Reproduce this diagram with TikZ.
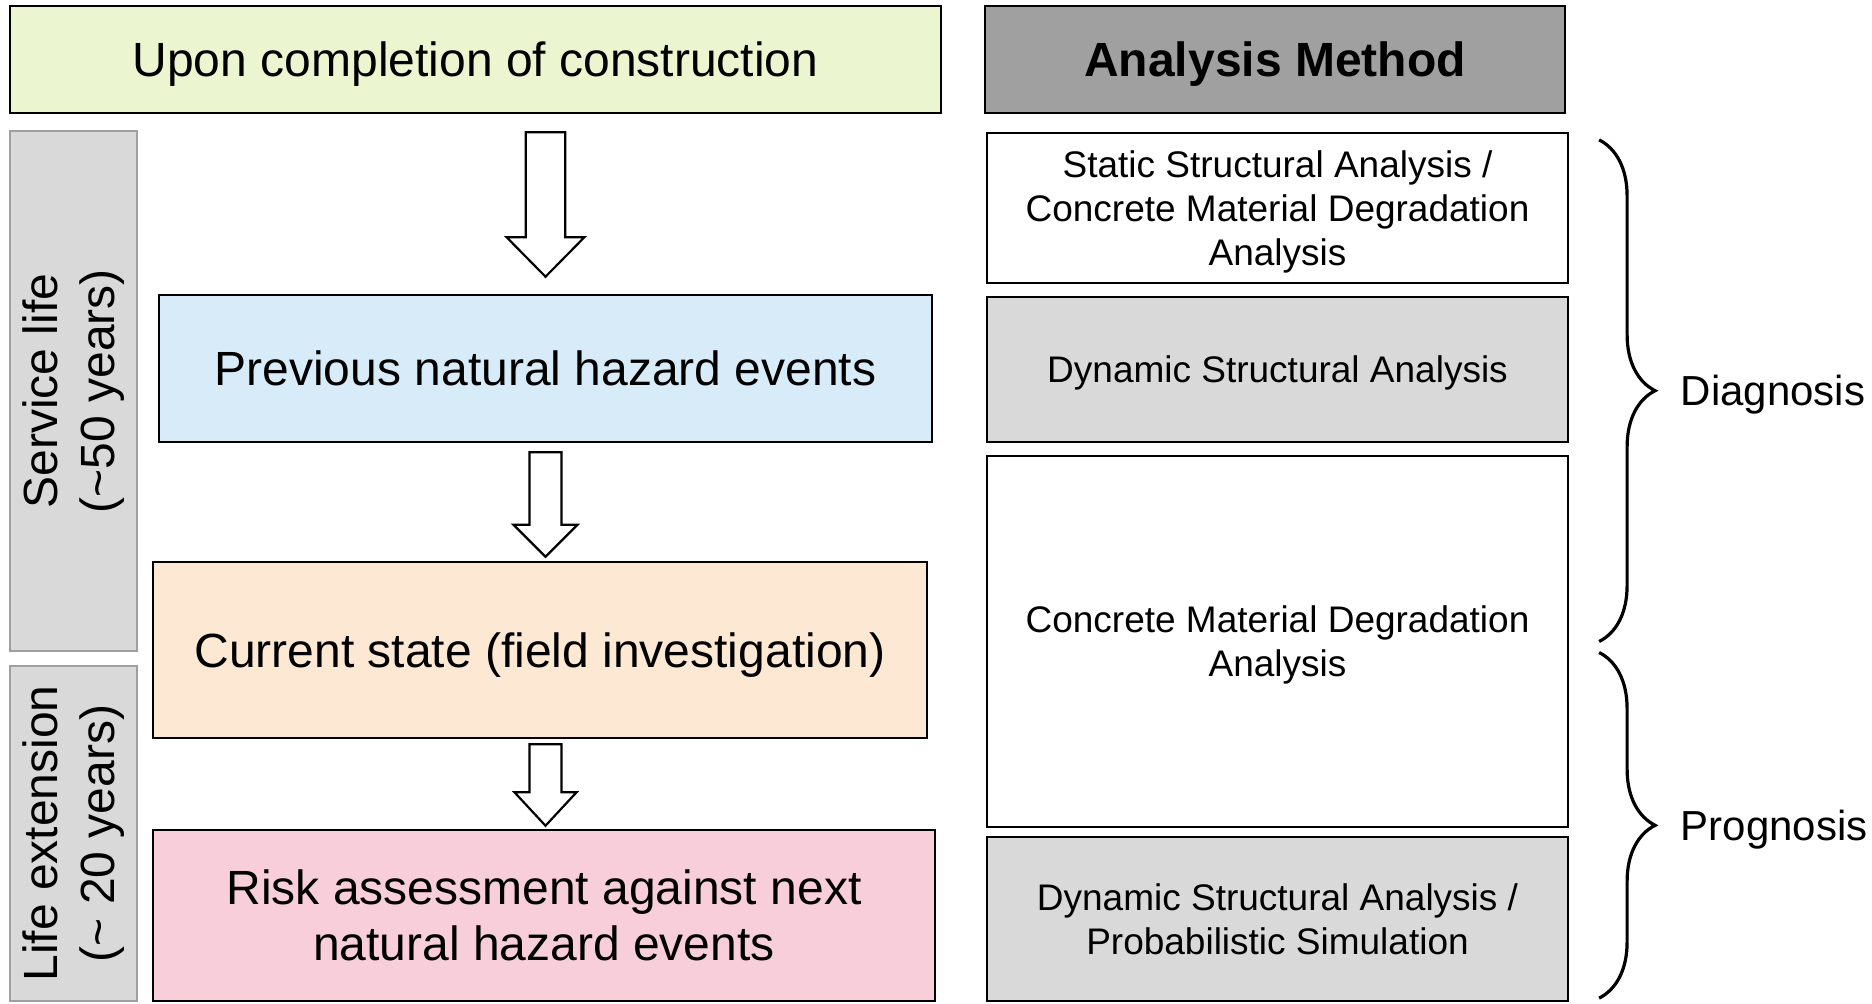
\documentclass[tikz,border=0pt]{standalone}
\usepackage{fontspec}
\setmainfont{Liberation Sans}
\usetikzlibrary{positioning, calc, decorations.pathreplacing}

\definecolor{startgreen}{HTML}{EBF6D1}
\definecolor{headgray}{HTML}{A0A0A0}
\definecolor{sidegray}{HTML}{D9D9D9}
\definecolor{prevblue}{HTML}{D7ECF8}
\definecolor{curorange}{HTML}{FDE9D3}
\definecolor{riskpink}{HTML}{F8CEDA}

% hollow block arrow: from, to, start gap, end gap, shaft half width, head half width, head length
\newcommand{\hollowarrow}[7]{%
  \draw[hollow] let \p1=(#1.south), \p2=(#2.north), \p3=(prev.north) in
    (\x3-#5,\y1-#3) -- (\x3-#5,\y2+#4+#7) -- (\x3-#6,\y2+#4+#7) -- (\x3,\y2+#4)
    -- (\x3+#6,\y2+#4+#7) -- (\x3+#5,\y2+#4+#7) -- (\x3+#5,\y1-#3) -- cycle;}

\begin{document}
\begin{tikzpicture}[
    x=1pt, y=-1pt,
    box/.style={draw, line width=1.3pt, align=center, inner sep=0pt, text depth=0pt, font=\fontsize{24}{28}\selectfont},
    methodbox/.style={draw, line width=1.1pt, minimum width=290.5pt, align=center, inner sep=0pt, text depth=0pt, font=\fontsize{18.5}{22}\selectfont},
    periodbar/.style={draw=gray!75, line width=0.8pt, fill=sidegray, rotate=90, minimum height=63.5pt, align=center, inner sep=0pt, font=\fontsize{24}{28.5}\selectfont},
    hollow/.style={draw, line width=1.1pt, fill=white, line join=miter},
    brace/.style={decorate, decoration={brace, amplitude=28pt}, line width=1.6pt},
    phase/.style={font=\fontsize{21}{25}\selectfont, inner sep=0pt, text depth=0pt}
]
\useasboundingbox (0,0) rectangle (936,501.5);

% left column
\node[box, fill=startgreen, minimum width=465.5pt, minimum height=53.5pt] (start) at (237.75,29.75) {Upon completion of construction};
\node[box, fill=prevblue, minimum width=386.5pt, minimum height=73.5pt] (prev) at (272.75,184.25) {Previous natural hazard events};
\node[box, fill=curorange, minimum width=387pt, minimum height=88pt] (cur) at (270,325) {Current state (field investigation)};
\node[box, fill=riskpink, minimum width=391pt, minimum height=85.5pt] (risk) at (272,457.75) {Risk assessment against next\\natural hazard events};

% periods
\node[periodbar, minimum width=260pt] (service) at (36.75,195.5) {Service life\\(\textasciitilde50 years)};
\node[periodbar, minimum width=167.5pt] (extension) at (36.75,416.75) {Life extension\\(\textasciitilde\ 20 years)};

% right column
\node[box, fill=headgray, line width=1.1pt, minimum width=290pt, minimum height=53.5pt, font=\fontsize{24}{28}\selectfont\bfseries] (method) at (637.5,29.75) {Analysis Method};
\node[methodbox, minimum height=75pt] (static) at (638.75,104) {Static Structural Analysis /\\Concrete Material Degradation\\Analysis};
\node[methodbox, fill=sidegray, minimum height=72.5pt] (dynamic) at (638.75,184.75) {Dynamic Structural Analysis};
\node[methodbox, minimum height=185.5pt] (concrete) at (638.75,320.75) {Concrete Material Degradation\\Analysis};
\node[methodbox, fill=sidegray, minimum height=82pt] (dynprob) at (638.75,459.5) {Dynamic Structural Analysis /\\Probabilistic Simulation};

% flow arrows
\hollowarrow{start}{prev}{9pt}{8.5pt}{9.85pt}{19.4pt}{19.7pt}
\hollowarrow{prev}{cur}{4.5pt}{2pt}{8pt}{16pt}{16pt}
\hollowarrow{cur}{risk}{2.5pt}{1.5pt}{8pt}{15.5pt}{16.7pt}

% braces
\draw[brace] ($(static.north east)+(15pt,-4pt)$) -- ($(concrete.east)+(15pt,0pt)$)
    node[phase, midway, right=40pt] (diag) {Diagnosis};
\draw[brace] ($(concrete.east)+(15pt,-5.5pt)$) -- ($(dynprob.south east)+(15pt,2pt)$)
    node[phase, midway, right=40pt] (prog) {Prognosis};

\end{tikzpicture}
\end{document}
